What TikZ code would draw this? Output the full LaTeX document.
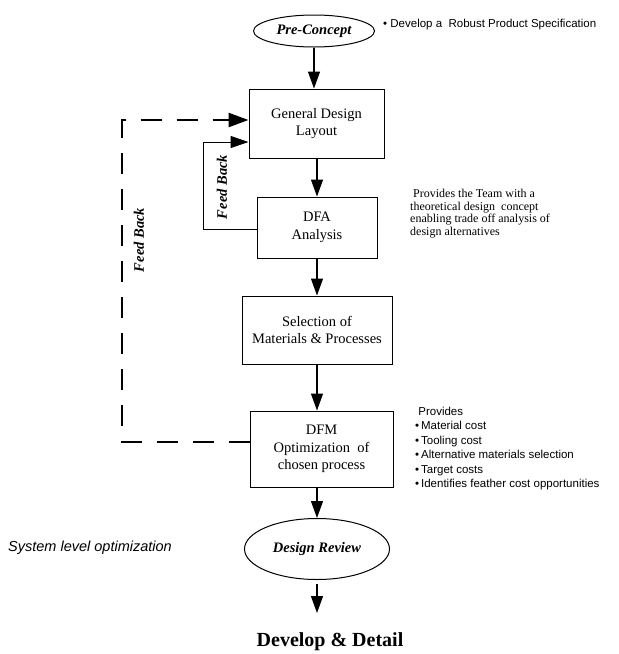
\documentclass[tikz,border=0pt]{standalone}
\usepackage{fontspec}
\setmainfont{Liberation Serif}
\setsansfont{Liberation Sans}
\usetikzlibrary{shapes.geometric,arrows.meta}
\begin{document}
\begin{tikzpicture}[x=1pt,y=-1pt,
  stepbox/.style={draw,line width=1pt,inner sep=0pt,align=center,
    font=\fontsize{14.5}{17.5}\selectfont},
  oval/.style={draw,ellipse,line width=1pt,inner sep=0pt,
    font=\fontsize{14.5}{16}\selectfont\bfseries\itshape},
  flow/.style={line width=1.2pt,-{Triangle[length=17pt,width=12pt]}},
  fbk/.style={line width=1pt,-{Triangle[length=18pt,width=12pt]}},
  fbkdash/.style={line width=2.5pt,dash pattern=on 21pt off 15pt,
    -{Triangle[length=20pt,width=14pt]}},
  fblabel/.style={rotate=90,font=\fontsize{14.5}{16}\selectfont\bfseries\itshape},
  note/.style={align=left,inner sep=0pt}
]
\useasboundingbox (0,0) rectangle (619,654);

\node[oval,minimum width=121pt,minimum height=32pt] (pre) at (314,31) {Pre-Concept};
\node[note,anchor=west,font=\sffamily\fontsize{11.5}{13}\selectfont] (spec) at (383,25)
  {\textbullet{} Develop a\ \ Robust Product Specification};

\node[stepbox,minimum width=135pt,minimum height=69pt] (gen) at (316.5,123.5) {General Design\\Layout};
\node[stepbox,minimum width=120pt,minimum height=61pt] (dfa) at (317,227.5) {DFA\\Analysis};
\node[stepbox,minimum width=150pt,minimum height=68pt] (sel) at (317,330) {Selection of\\Materials \& Processes};
\node[stepbox,minimum width=143pt,minimum height=76pt] (dfm) at (321.5,449) {DFM\\Optimization\ \ of\\chosen process};
\node[oval,minimum width=145pt,minimum height=61pt] (dr) at (317,549) {Design Review};
\node[font=\fontsize{20}{22}\selectfont\bfseries] (dd) at (330,642) {Develop \& Detail};
\coordinate (ddtop) at (317,613);

\node[note,anchor=north west,font=\fontsize{12}{12.5}\selectfont] (team) at (410,189)
  {\ Provides the Team with a\\theoretical design\ \ concept\\enabling trade off analysis of\\design alternatives};
\node[note,anchor=north west,font=\sffamily\fontsize{11.5}{14.4}\selectfont] (prov) at (415,407)
  {\ Provides\\\textbullet\,Material cost\\\textbullet\,Tooling cost\\\textbullet\,Alternative materials selection\\\textbullet\,Target costs\\\textbullet\,Identifies feather cost opportunities};
\node[note,anchor=west,font=\sffamily\itshape\fontsize{14.5}{16}\selectfont] (sys) at (8,548) {System level optimization};

\draw[flow] (pre) -- (pre.south |- gen.north);
\draw[flow] (gen.south -| dfa.north) -- (dfa);
\draw[flow] (dfa) -- (dfa.south |- sel.north);
\draw[flow] (sel.south -| dr.north) -- (dr.north |- dfm.north);
\draw[flow] (dr.north |- dfm.south) -- (dr);
\draw[flow,shorten <=4pt] (dr) -- (ddtop);

\coordinate (ia) at (203,229);
\coordinate (ib) at (203,142);
\draw[fbk] (dfa.west |- ia) -- (ia) -- (ib) -- (gen.west |- ib);
\node[fblabel] (fb1) at (222,187) {Feed Back};

\coordinate (oa) at (122,442);
\coordinate (ob) at (122,120);
\draw[fbkdash] (dfm.west |- oa) -- (oa) -- (ob) -- (gen.west |- ob);
\node[fblabel] (fb2) at (139,240) {Feed Back};
\end{tikzpicture}
\end{document}
